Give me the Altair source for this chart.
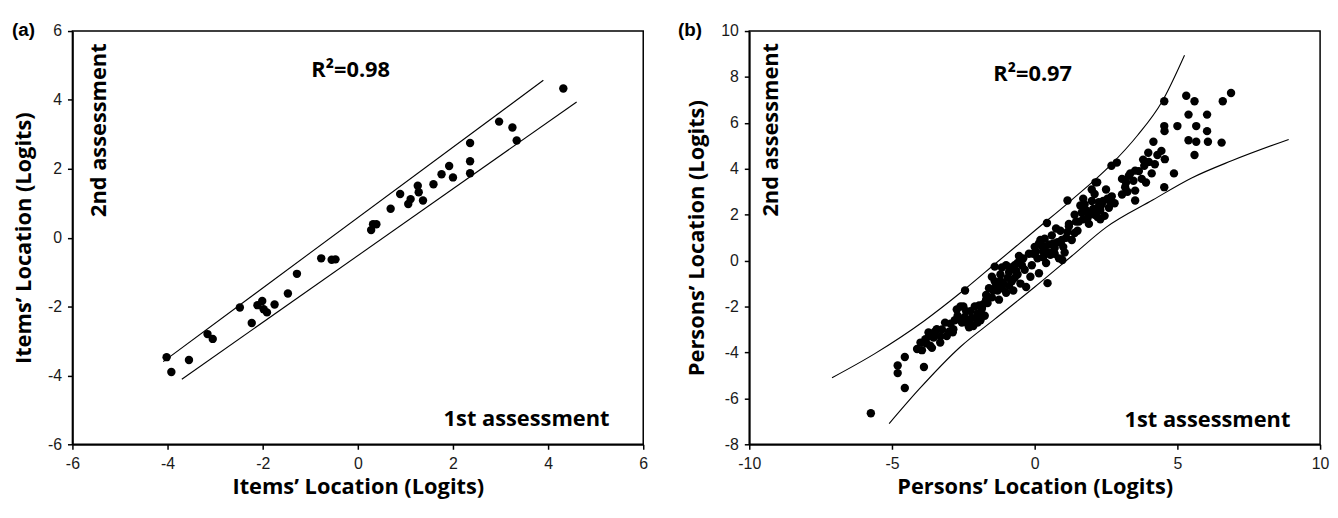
import altair as alt
import pandas as pd

# ---------------- Panel (a): items ----------------
a_x = [-4.02, -3.92, -3.55, -3.16, -3.05, -2.48, -2.23, -2.11, -2.01, -1.98, -1.91, -1.75,
       -1.47, -1.28, -0.77, -0.55, -0.47, 0.28, 0.32, 0.39, 0.69, 0.89, 1.06, 1.11, 1.26,
       1.28, 1.37, 1.59, 1.76, 1.92, 2.00, 2.36, 2.36, 2.36, 2.97, 3.25, 3.34, 4.32]
a_y = [-3.47, -3.90, -3.55, -2.80, -2.94, -2.03, -2.48, -1.96, -1.84, -2.08, -2.17, -1.94,
       -1.62, -1.05, -0.60, -0.64, -0.63, 0.22, 0.39, 0.39, 0.84, 1.27, 0.98, 1.12, 1.51,
       1.32, 1.08, 1.55, 1.84, 2.08, 1.75, 2.75, 2.22, 1.87, 3.37, 3.20, 2.82, 4.33]
a_up_x = [-4.09, 3.90]
a_up_y = [-3.60, 4.57]
a_lo_x = [-3.70, 4.60]
a_lo_y = [-4.11, 3.94]
a_xticks = [-6, -4, -2, 0, 2, 4, 6]
a_yticks = [-6, -4, -2, 0, 2, 4, 6]

# ---------------- Panel (b): persons ----------------
b_x = [-5.74, -4.8, -4.8, -4.55, -4.55, -3.88,
       -4.12, -4.0, -3.83, -3.72, -3.66, -3.54, -3.43, -3.31, -3.14, -3.08, -2.85, -2.73, -2.61,
       -3.95, -3.6, -3.25, -2.95, -2.87,
       -3.8, -3.5, -3.3, -3.0, -2.8, -3.7,
       -2.7, -2.55, -2.4, -2.3, -2.2, -2.1, -2.0, -1.9, -1.8, -2.5, -2.0, -2.3, -2.44, -2.6,
       -1.75, -2.15, -1.95,
       -2.45, -2.25, -2.05, -1.85, -1.7, -2.35, -1.9,
       -1.7, -1.6, -1.5, -1.4, -1.3, -1.2, -1.1, -1.0, -0.9, -0.8, -0.7, -0.6, -0.5, -0.4,
       -0.35, -1.5, -1.0, -0.9, -1.4, -0.3, -1.25, -0.75, -0.55, -1.65, -1.15, -0.65,
       -1.45, -1.35, -1.15, -0.95, -0.85, -0.7, -0.45, -1.2, -0.6,
       -0.2, -0.1, 0.0, 0.1, 0.2, 0.3, 0.4, 0.5, 0.6, 0.7, 0.8, 0.9, 1.0, 1.1, 1.2, 1.3,
       0.25, 0.55, 0.43, 0.45, 0.97, 0.15, -0.15, 0.75, 1.4, 0.35, 0.85,
       -0.05, 0.05, 0.15, 0.35, 0.5, 0.65, 0.95, 1.15, 0.7, 1.05, 0.3,
       1.15, 1.2, 1.4, 1.5, 1.6, 1.7, 1.8, 1.9, 2.0, 2.1, 2.2, 2.3, 1.7, 1.9, 2.1, 2.3,
       2.4, 2.6, 2.7, 2.5, 2.2, 2.8, 2.13, 2.19, 1.55, 2.45, 2.0,
       1.45, 1.65, 1.85, 2.05, 2.25, 2.55, 2.35, 2.65, 1.75,
       2.69, 2.88, 3.06, 3.17, 3.06, 3.52, 3.52, 3.46, 3.75, 3.52, 3.84, 4.1, 4.21, 3.98,
       4.44, 4.56, 4.16, 4.54, 4.88, 4.54, 4.55, 5.0, 4.54, 5.31, 5.6, 5.39, 6.04, 5.66,
       6.04, 5.39, 5.66, 6.07, 6.55, 5.6, 6.59, 6.88, 3.3, 3.9,
       3.2, 3.35, 3.65, 3.8, 4.3, 4.0, 3.25]
b_y = [-6.65, -4.57, -4.9, -4.2, -5.55, -4.63,
       -3.85, -3.57, -3.42, -3.13, -3.71, -3.35, -2.99, -3.57, -2.70, -3.28, -2.99, -2.13, -2.56,
       -3.9, -3.8, -3.0, -2.75, -3.12,
       -3.6, -3.1, -3.3, -3.1, -2.6, -3.3,
       -2.4, -2.7, -2.2, -2.9, -2.5, -2.0, -2.7, -2.3, -1.9, -2.0, -2.3, -2.6, -1.3, -2.0,
       -2.4, -2.85, -1.95,
       -2.45, -2.2, -2.5, -2.1, -1.7, -2.75, -2.6,
       -1.5, -1.2, -1.6, -0.9, -1.3, -0.6, -1.0, -1.4, -0.5, -0.9, -0.2, -0.6, -1.0, 0.1,
       -0.4, -0.7, -0.2, -1.1, -0.26, -1.15, -1.7, -1.3, 0.2, -1.85, -0.3, -0.45,
       -1.3, -1.1, -1.2, -0.75, -0.3, -0.75, -0.2, -0.9, -0.1,
       0.3, -0.2, 0.6, 0.1, 0.9, 0.4, -0.1, 0.7, 1.1, 0.3, 0.8, 1.3, 0.6, 1.0, 1.5, 0.9,
       0.65, 0.25, 1.64, -0.98, 0.03, -0.55, -0.7, 1.4, 1.2, 0.95, 0.1,
       0.3, 0.4, 0.75, 0.55, 0.35, 0.75, 0.9, 1.25, 0.55, 0.35, 0.15,
       2.62, 1.6, 2.0, 1.3, 2.4, 1.8, 2.2, 1.6, 2.6, 2.0, 2.3, 1.8, 2.7, 2.0, 2.9, 2.2,
       2.6, 2.3, 2.8, 3.1, 1.9, 2.5, 3.41, 3.41, 1.7, 1.95, 3.1,
       1.7, 2.1, 1.85, 2.25, 2.55, 2.7, 2.45, 2.55, 2.45,
       4.13, 4.27, 3.56, 3.2, 2.88, 3.05, 2.62, 3.48, 3.56, 3.92, 4.13, 3.8, 4.2, 4.7,
       4.78, 4.42, 5.18, 3.2, 3.8, 5.86, 5.64, 5.86, 6.94, 7.18, 6.94, 6.36, 6.36, 5.86,
       5.64, 5.24, 5.18, 5.18, 5.14, 4.6, 6.94, 7.3, 3.7, 3.4,
       3.4, 3.8, 3.9, 4.4, 4.6, 4.3, 3.0]
b_up_x = [-7.1, -5.6, -3.9, -2.6, -1.3, 0.0, 1.3, 2.65, 3.6, 4.45, 5.25]
b_up_y = [-5.1, -4.05, -2.65, -1.4, -0.05, 1.3, 2.65, 4.15, 5.45, 6.9, 8.95]
b_lo_x = [-5.1, -4.05, -2.6, -1.4, 0.0, 1.3, 2.5, 4.15, 5.5, 6.9, 8.9]
b_lo_y = [-7.1, -5.6, -3.75, -2.55, -1.15, 0.2, 1.45, 2.65, 3.6, 4.35, 5.28]
b_xticks = [-10, -5, 0, 5, 10]
b_yticks = [-8, -6, -4, -2, 0, 2, 4, 6, 8, 10]

TITLE_FONT = "Open Sans"
LABEL_FONT = "Liberation Sans"


def band_frame(ux, uy, lx, ly):
    rows = []
    for i, (x, y) in enumerate(zip(ux, uy)):
        rows.append({"x": x, "y": y, "band": "upper", "i": i})
    for i, (x, y) in enumerate(zip(lx, ly)):
        rows.append({"x": x, "y": y, "band": "lower", "i": i})
    return pd.DataFrame(rows)


def panel(px, py, ux, uy, lx, ly, xdom, ydom, xticks, yticks, xtitle, ytitle,
          letter, letter_dx, r2, r2pos, firstpos, secondpos, ytitlepad, interp):
    xs = alt.Scale(domain=xdom, nice=False, zero=False)
    ys = alt.Scale(domain=ydom, nice=False, zero=False)
    common = dict(grid=False, domainColor="black", domainWidth=1.8,
                  tickColor="black", tickSize=5, tickWidth=1.5,
                  labelFont=LABEL_FONT, labelFontSize=16, labelColor="#1a1a1a",
                  labelExpr="'' + datum.value",
                  titleFont=TITLE_FONT, titleFontSize=22,
                  titleFontWeight="bold", titleColor="black")
    xax = alt.Axis(values=xticks, title=xtitle, titlePadding=6, labelPadding=6,
                   labelFlush=False, **common)
    yax = alt.Axis(values=yticks, title=ytitle, titlePadding=ytitlepad, labelPadding=6,
                   **common)
    X = lambda: alt.X("x:Q", scale=xs, axis=xax)
    Y = lambda: alt.Y("y:Q", scale=ys, axis=yax)

    bdf = band_frame(ux, uy, lx, ly)
    band = alt.Chart(bdf).mark_line(color="black", strokeWidth=1.1, interpolate=interp).encode(
        x=X(), y=Y(), detail="band:N", order="i:Q")
    pts = alt.Chart(pd.DataFrame({"x": px, "y": py})).mark_circle(
        size=72, color="black", opacity=1).encode(x=X(), y=Y())

    tkw = dict(font=TITLE_FONT, fontSize=22, fontWeight="bold", color="black")
    r2t = alt.Chart(pd.DataFrame({"x": [r2pos[0]], "y": [r2pos[1]], "t": [r2]})).mark_text(
        align="center", baseline="middle", **tkw).encode(x=X(), y=Y(), text="t:N")
    first = alt.Chart(pd.DataFrame({"x": [firstpos[0]], "y": [firstpos[1]],
                                    "t": ["1st assessment"]})).mark_text(
        align="right", baseline="middle", **tkw).encode(x=X(), y=Y(), text="t:N")
    second = alt.Chart(pd.DataFrame({"x": [secondpos[0]], "y": [secondpos[1]],
                                     "t": ["2nd assessment"]})).mark_text(
        align="center", baseline="middle", angle=270, **tkw).encode(x=X(), y=Y(), text="t:N")
    lab = alt.Chart(pd.DataFrame({"t": [letter]})).mark_text(
        align="left", baseline="middle", font=LABEL_FONT, fontSize=19, fontWeight="bold",
        color="black", x=letter_dx, y=-1).encode(text="t:N")
    return alt.layer(band, pts, r2t, first, second, lab).properties(width=576, height=417)


pa = panel(a_x, a_y, a_up_x, a_up_y, a_lo_x, a_lo_y, [-6, 6], [-6, 6], a_xticks, a_yticks,
           "Items’ Location (Logits)", "Items’ Location (Logits)", "(a)", -61, "R²=0.98",
           (-0.15, 4.88), (5.29, -5.28), (-5.44, 3.12), 12, "linear")
pb = panel(b_x, b_y, b_up_x, b_up_y, b_lo_x, b_lo_y, [-10, 10], [-8, 10], b_xticks, b_yticks,
           "Persons’ Location (Logits)", "Persons’ Location (Logits)", "(b)", -72, "R²=0.97",
           (-0.07, 8.14), (8.96, -6.96), (-9.24, 5.7), 12, "monotone")

chart = alt.hconcat(pa, pb, spacing=28).properties(
    padding={"left": 3, "top": 10, "right": 0, "bottom": 4}
).configure_view(stroke="black", strokeWidth=1.5)

chart.save("out.html", embed_options={"renderer": "svg", "actions": False})
